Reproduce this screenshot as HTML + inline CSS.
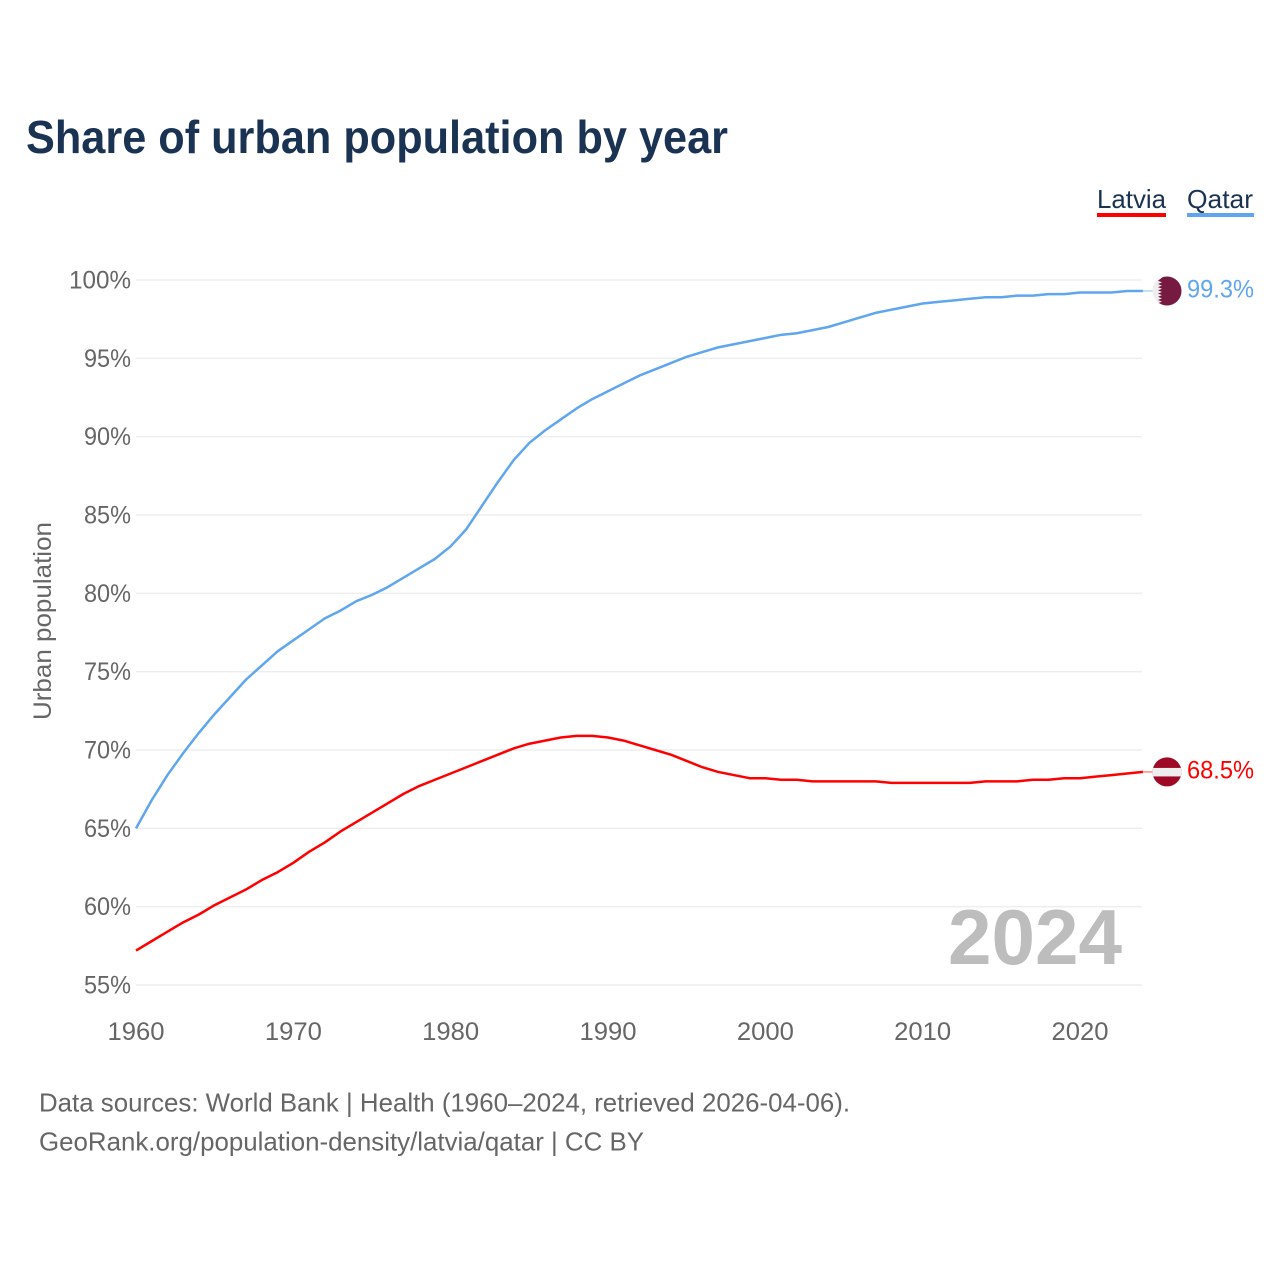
<!DOCTYPE html>
<html>
<head>
<meta charset="utf-8">
<title>Share of urban population by year</title>
<style>
html,body{margin:0;padding:0;background:#fff}
svg{display:block}
text{font-family:"Liberation Sans",sans-serif}
</style>
</head>
<body>
<svg id="chart" xmlns="http://www.w3.org/2000/svg" width="1280" height="1280" viewBox="0 0 1280 1280">
  <rect x="0" y="0" width="1280" height="1280" fill="#ffffff"/>
  <defs>
    <clipPath id="flag-clip"><circle cx="0" cy="0" r="14.5"/></clipPath>
  </defs>
  <text x="26" y="153" font-size="46" font-weight="700" fill="#1a3353" textLength="702" lengthAdjust="spacingAndGlyphs">Share of urban population by year</text>

  <g>
    <text x="1097" y="208" font-size="26" fill="#1a3353" textLength="69" lengthAdjust="spacingAndGlyphs">Latvia</text>
    <rect x="1097" y="213" width="69" height="4" fill="#ff0000"/>
  </g>
  <g>
    <text x="1187" y="208" font-size="26" fill="#1a3353" textLength="66" lengthAdjust="spacingAndGlyphs">Qatar</text>
    <rect x="1187" y="213" width="67" height="4" fill="#5fa6ee"/>
  </g>

  <g id="grid"></g>
  <g id="y-ticks"></g>
  <g id="x-ticks"></g>
  <text transform="translate(51,621) rotate(-90)" text-anchor="middle" font-size="25" fill="#666666" textLength="198" lengthAdjust="spacingAndGlyphs">Urban population</text>

  <text x="948" y="964" font-size="78" font-weight="700" fill="#bdbdbd" textLength="174" lengthAdjust="spacingAndGlyphs">2024</text>

  <g id="series"></g>

  <g id="flag-qatar">
    <g clip-path="url(#flag-clip)">
      <rect x="-15" y="-15" width="30" height="30" fill="#eeeeee"/>
      <polygon fill="#761a42" points="15,-15 -9,-15 -5,-13.4 -9,-10.2 -5,-8.6 -9,-7 -5,-5.4 -9,-3.8 -5,-2.2 -9,-0.6 -5,1 -9,2.6 -5,4.2 -9,5.8 -5,7.4 -9,9 -5,10.6 -9,12.2 -5,13.8 -9,15 15,15"/>
    </g>
  </g>
  <g id="flag-latvia">
    <g clip-path="url(#flag-clip)">
      <rect x="-15" y="-15" width="30" height="30" fill="#9e0a26"/>
      <rect x="-15" y="-4" width="30" height="8.5" fill="#eeeeee"/>
    </g>
  </g>

  <text x="39" y="1111.5" font-size="26" fill="#666666" textLength="811" lengthAdjust="spacingAndGlyphs">Data sources: World Bank | Health (1960–2024, retrieved 2026-04-06).</text>
  <text x="39" y="1150.5" font-size="26" fill="#666666" textLength="605" lengthAdjust="spacingAndGlyphs">GeoRank.org/population-density/latvia/qatar | CC BY</text>
</svg>
<script>
const years = [1960,1961,1962,1963,1964,1965,1966,1967,1968,1969,1970,1971,1972,1973,1974,1975,1976,1977,1978,1979,1980,1981,1982,1983,1984,1985,1986,1987,1988,1989,1990,1991,1992,1993,1994,1995,1996,1997,1998,1999,2000,2001,2002,2003,2004,2005,2006,2007,2008,2009,2010,2011,2012,2013,2014,2015,2016,2017,2018,2019,2020,2021,2022,2023,2024];
const qatarValues = [65.0,66.8,68.4,69.8,71.1,72.3,73.4,74.5,75.4,76.3,77.0,77.7,78.4,78.9,79.5,79.9,80.4,81.0,81.6,82.2,83.0,84.1,85.6,87.1,88.5,89.6,90.4,91.1,91.8,92.4,92.9,93.4,93.9,94.3,94.7,95.1,95.4,95.7,95.9,96.1,96.3,96.5,96.6,96.8,97.0,97.3,97.6,97.9,98.1,98.3,98.5,98.6,98.7,98.8,98.9,98.9,99.0,99.0,99.1,99.1,99.2,99.2,99.2,99.3,99.3];
const latviaValues = [57.2,57.8,58.4,59.0,59.5,60.1,60.6,61.1,61.7,62.2,62.8,63.5,64.1,64.8,65.4,66.0,66.6,67.2,67.7,68.1,68.5,68.9,69.3,69.7,70.1,70.4,70.6,70.8,70.9,70.9,70.8,70.6,70.3,70.0,69.7,69.3,68.9,68.6,68.4,68.2,68.2,68.1,68.1,68.0,68.0,68.0,68.0,68.0,67.9,67.9,67.9,67.9,67.9,67.9,68.0,68.0,68.0,68.1,68.1,68.2,68.2,68.3,68.4,68.5,68.6];
const yTicks = [55,60,65,70,75,80,85,90,95,100];
const xTicks = [1960,1970,1980,1990,2000,2010,2020];
const qatarLabel = "99.3%";
const latviaLabel = "68.5%";

const NS = "http://www.w3.org/2000/svg";
const xScale = v => 136 + (v - 1960) * (944 / 60);
const yScale = v => 985 - (v - 55) * (705 / 45);
const PLOT_RIGHT = 1142;

function mk(tag, parent, attrs) {
  const el = document.createElementNS(NS, tag);
  for (const k in attrs) el.setAttribute(k, attrs[k]);
  parent.appendChild(el);
  return el;
}

const grid = document.getElementById("grid");
const yLabels = document.getElementById("y-ticks");
yTicks.forEach(t => {
  const line = mk("line", grid, {x1: 136, x2: PLOT_RIGHT, y1: yScale(t), y2: yScale(t), stroke: "#eeeeee", "stroke-width": 1.5});
  
  
  const label = mk("text", yLabels, {x: 131, y: yScale(t) + 8.5, "text-anchor": "end", "font-size": 25, fill: "#666666", textLength: t === 100 ? 62 : 47, lengthAdjust: "spacingAndGlyphs"});
  
  
  label.textContent = t + "%";
});

const xLabels = document.getElementById("x-ticks");
xTicks.forEach(t => {
  const label = mk("text", xLabels, {x: xScale(t), y: 1040, "text-anchor": "middle", "font-size": 25, fill: "#666666", textLength: 57, lengthAdjust: "spacingAndGlyphs"});
  
  
  label.textContent = t;
});

const seriesGroup = document.getElementById("series");
function drawSeries(values, color, labelText, flagId, seriesName) {
  const d = values.map((v, i) => (i ? "L" : "M") + xScale(years[i]).toFixed(2) + " " + yScale(v).toFixed(2)).join(" ");
  const path = mk("path", seriesGroup, {d: d, fill: "none", stroke: color, "stroke-width": 2.5, "stroke-linejoin": "round"});
  
  
  const endY = yScale(values[values.length - 1]);
  const endX = xScale(years[years.length - 1]);
  const connector = mk("line", seriesGroup, {x1: endX, x2: 1153, y1: endY, y2: endY, stroke: color, "stroke-width": 1, opacity: 0.7});
  
  
  document.getElementById(flagId).setAttribute("transform", "translate(1167 " + endY.toFixed(2) + ")");
  const value = mk("text", seriesGroup, {x: 1187, y: endY + 6.5, "font-size": 25, fill: color, textLength: 67, lengthAdjust: "spacingAndGlyphs"});
  
  
  value.textContent = labelText;
}
drawSeries(latviaValues, "#ff0000", latviaLabel, "flag-latvia", "latvia");
drawSeries(qatarValues, "#5fa6ee", qatarLabel, "flag-qatar", "qatar");
</script>
</body>
</html>
